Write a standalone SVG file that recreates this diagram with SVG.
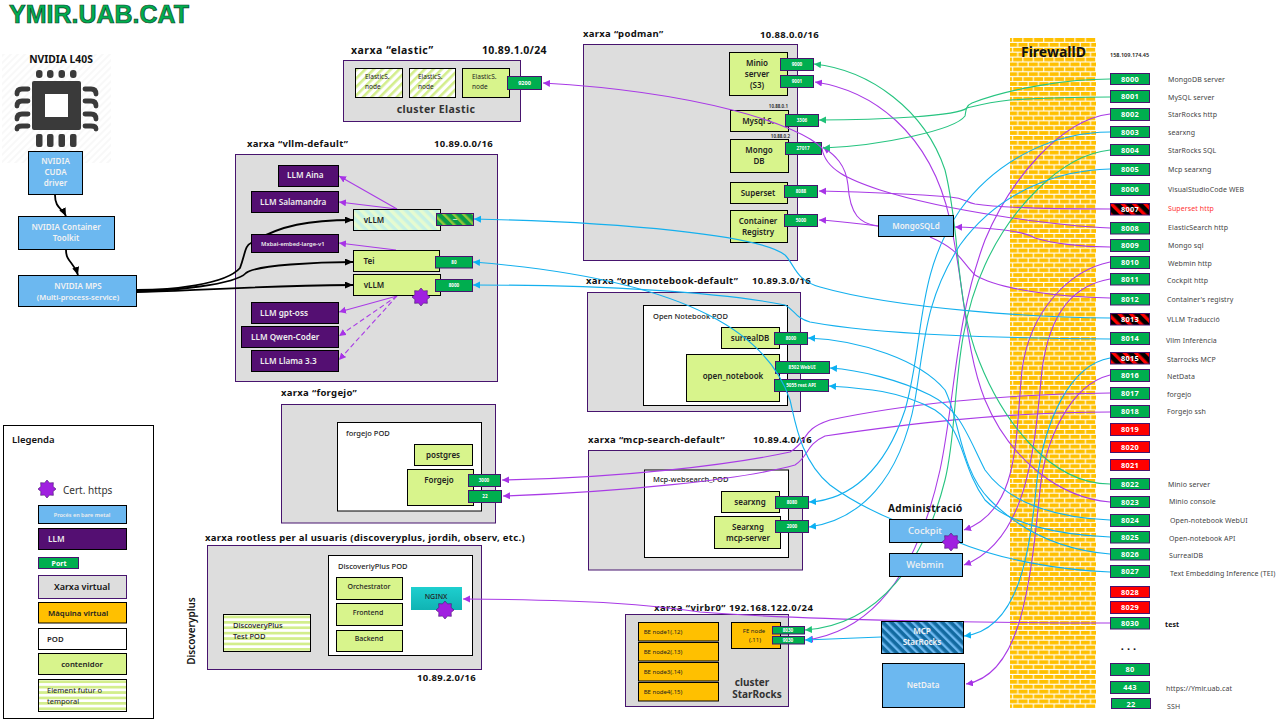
<svg xmlns="http://www.w3.org/2000/svg" width="1280" height="720" viewBox="0 0 1280 720">
<style>
text{font-family:"Noto Sans","Liberation Sans",sans-serif;fill:#222}
.b{font-weight:600}
.net{fill:#ddd;stroke:#47146e;stroke-width:1}
.pod{fill:#fff;stroke:#000;stroke-width:1}
.c{fill:#d8f48c;stroke:#000;stroke-width:1}
.fut{fill:url(#hG);stroke:#000;stroke-width:1}
.fut2{fill:url(#hS);stroke:#000;stroke-width:1}
.llm{fill:#540f72;stroke:#000;stroke-width:1}
.bm{fill:#6cb8f0;stroke:#000;stroke-width:1}
.vm{fill:#ffc000;stroke:#000;stroke-width:1}
.p{fill:#00ae4f;stroke:#47146e;stroke-width:1}
.pr{fill:#f00;stroke:#47146e;stroke-width:1}
.ph{fill:url(#hR);stroke:#47146e;stroke-width:1}
.tn{font-size:9.5px;font-weight:700;letter-spacing:.3px;fill:#111}
.tc{font-size:8px;font-weight:600;text-anchor:middle;fill:#222}
.tl{font-size:8.2px;font-weight:600;fill:#eee}
.tb{font-size:8px;font-weight:600;fill:#f2f2f2;text-anchor:middle}
.tp{font-size:4.6px;font-weight:700;fill:#fff;text-anchor:middle}
.tf{font-size:7.4px;font-weight:700;fill:#fff;text-anchor:middle;letter-spacing:.3px}
.lb{font-size:7px;fill:#444;letter-spacing:.1px}
.lv{fill:none;stroke-width:1.1}
.g{stroke:#27c480}.u{stroke:#a93be6}.s{stroke:#14b0ee}
.star{fill:#a020e0;stroke:#47146e;stroke-width:.6}
</style>
<defs>
<marker id="aG" markerUnits="userSpaceOnUse" markerWidth="8" markerHeight="8" refX="7" refY="3.5" orient="auto"><path d="M0,0L7,3.5L0,7z" fill="#1fc177"/></marker>
<marker id="aU" markerUnits="userSpaceOnUse" markerWidth="8" markerHeight="8" refX="7" refY="3.5" orient="auto"><path d="M0,0L7,3.5L0,7z" fill="#a733e6"/></marker>
<marker id="aS" markerUnits="userSpaceOnUse" markerWidth="8" markerHeight="8" refX="7" refY="3.5" orient="auto"><path d="M0,0L7,3.5L0,7z" fill="#0cb0f2"/></marker>
<marker id="aK" markerUnits="userSpaceOnUse" markerWidth="9" markerHeight="8" refX="8" refY="3.5" orient="auto"><path d="M0,0L8,3.5L0,7z" fill="#000"/></marker>
<pattern id="hG" width="6" height="6" patternUnits="userSpaceOnUse" patternTransform="rotate(45)"><rect width="6" height="6" fill="#fff"/><rect width="2.6" height="6" fill="#d3ee8c"/></pattern>
<pattern id="hS" width="6" height="5.4" patternUnits="userSpaceOnUse"><rect width="6" height="5.4" fill="#fff"/><rect width="6" height="2.7" fill="#d3ee8c"/></pattern>
<pattern id="hC" width="7" height="7" patternUnits="userSpaceOnUse" patternTransform="rotate(-45)"><rect width="7" height="7" fill="#c6f1e4"/><rect width="3.5" height="7" fill="#e6fbd0"/></pattern>
<pattern id="hP" width="7" height="7" patternUnits="userSpaceOnUse" patternTransform="rotate(-45)"><rect width="7" height="7" fill="#0a9a48"/><rect width="2.5" height="7" fill="#92c638"/></pattern>
<pattern id="hR" width="8" height="8" patternUnits="userSpaceOnUse" patternTransform="rotate(-45)"><rect width="8" height="8" fill="#000"/><rect width="3.4" height="8" fill="#f00"/></pattern>
<pattern id="hB" width="6" height="6" patternUnits="userSpaceOnUse" patternTransform="rotate(-45)"><rect width="6" height="6" fill="#126aa0"/><rect width="2.4" height="6" fill="#6cb8f0"/></pattern>
<pattern id="hL" width="5" height="5" patternUnits="userSpaceOnUse" patternTransform="rotate(45)"><rect width="5" height="5" fill="#fff"/><rect width="2" height="5" fill="#f8f8f8"/></pattern>
<pattern id="brick" width="10.4" height="9.8" patternUnits="userSpaceOnUse" patternTransform="translate(1010 38)"><rect width="10.4" height="9.8" fill="#ffc000"/><rect y="3.8" width="10.4" height="1.1" fill="#fff"/><rect y="8.7" width="10.4" height="1.1" fill="#fff"/><rect x="2" width="1.1" height="3.8" fill="#fff"/><rect x="7.2" y="4.9" width="1.1" height="3.8" fill="#fff"/></pattern>
<linearGradient id="teal" x1="0" y1="0" x2="0" y2="1"><stop offset="0" stop-color="#1ecfcf"/><stop offset="1" stop-color="#10b3b3"/></linearGradient>
<polygon id="star" class="star" points="0,-9 2.5,-6.1 6.36,-6.36 6.1,-2.5 9,0 6.1,2.5 6.36,6.36 2.5,6.1 0,9 -2.5,6.1 -6.36,6.36 -6.1,2.5 -9,0 -6.1,-2.5 -6.36,-6.36 -2.5,-6.1"/>
</defs>

<g id="title"><text x="9" y="23" style="font-family:'Liberation Sans',sans-serif;font-size:25px;font-weight:700;fill:#00ae4f;stroke:#14402a;stroke-width:.7px">YMIR.UAB.CAT</text></g>

<g id="gpu">
<rect x="2" y="54" width="109" height="109" fill="url(#hL)"/>
<text x="61" y="63" class="b" style="font-size:10.300px;font-weight:700;text-anchor:middle;fill:#111">NVIDIA L40S</text>
<rect x="32" y="81" width="49" height="49" rx="2" fill="#3a3a3a"/>
<rect x="45" y="94" width="23" height="23" fill="#fff"/>
<g fill="#3a3a3a"><rect x="36" y="70" width="6.500" height="8" rx="3"/><rect x="47" y="70" width="6.500" height="8" rx="3"/><rect x="58.500" y="70" width="6.500" height="8" rx="3"/><rect x="70" y="70" width="6.500" height="8" rx="3"/><rect x="36" y="134" width="6.500" height="13" rx="2"/><rect x="47" y="134" width="6.500" height="13" rx="2"/><rect x="58.500" y="134" width="6.500" height="13" rx="2"/><rect x="70" y="134" width="6.500" height="13" rx="2"/></g>
<g fill="none" stroke="#3a3a3a" stroke-width="4.800" stroke-linecap="round"><path d="M28,89H22Q17,89 17,94"/><path d="M28,101H22Q17,101 17,106"/><path d="M28,114H22Q17,114 17,119"/><path d="M28,126H22Q17,126 17,129"/><path d="M85,89H91Q96,89 96,94"/><path d="M85,101H91Q96,101 96,106"/><path d="M85,114H91Q96,114 96,119"/><path d="M85,126H91Q96,126 96,129"/></g>
</g>
<g id="cuda"><rect x="28.500" y="151.500" width="54" height="43" class="bm"/><text class="tb" x="55.500" y="164">NVIDIA</text><text class="tb" x="55.500" y="175">CUDA</text><text class="tb" x="55.500" y="186">driver</text></g>
<g id="toolkit"><rect x="18.500" y="216.500" width="96" height="33" class="bm"/><text class="tb" x="66" y="230">NVIDIA Container</text><text class="tb" x="66" y="241">Toolkit</text></g>
<g id="mps"><rect x="18.500" y="275.500" width="118" height="31" class="bm"/><text class="tb" x="78" y="289">NVIDIA MPS</text><text class="tb" x="78" y="300" style="font-size:7.500px">(Multi-process-service)</text></g>

<g id="net-elastic"><rect x="343.500" y="60.500" width="177" height="61" class="net"/><text class="tn" x="351" y="54" style="font-size:10.500px;letter-spacing:.5px">xarxa “elastic”</text><text class="tn" x="482" y="54" style="font-size:10.500px">10.89.1.0/24</text><text x="436" y="113" style="font-size:10.500px;font-weight:700;text-anchor:middle;fill:#333;letter-spacing:.4px">cluster Elastic</text></g>
<g id="elastic1"><rect x="355.500" y="68.500" width="47" height="29" class="fut"/><text x="365" y="79" style="font-size:6.500px">ElasticS.</text><text x="365" y="89" style="font-size:6.500px">node</text></g>
<g id="elastic2"><rect x="409.500" y="68.500" width="46" height="29" class="fut"/><text x="418" y="79" style="font-size:6.500px">ElasticS.</text><text x="418" y="89" style="font-size:6.500px">node</text></g>
<g id="elastic3"><rect x="462.500" y="68.500" width="47" height="29" class="c"/><text x="472" y="79" style="font-size:6.500px">ElasticS.</text><text x="472" y="89" style="font-size:6.500px">node</text><rect x="507.500" y="76.500" width="34" height="13" class="p"/><text class="tp" x="524.500" y="85" style="font-size:5.500px">9200</text></g>

<g id="net-vllm"><rect x="235.500" y="154.500" width="262" height="227" class="net"/><text class="tn" x="247" y="147">xarxa “vllm-default”</text><text class="tn" x="434" y="147">10.89.0.0/16</text></g>

<g id="net-podman"><rect x="583.500" y="44.500" width="214" height="216" class="net"/><text class="tn" x="583" y="37">xarxa “podman”</text><text class="tn" x="760" y="38">10.88.0.0/16</text></g>
<g id="minio"><rect x="729.500" y="52.500" width="58" height="43" class="c"/><text class="tc" x="757" y="66">Minio</text><text class="tc" x="757" y="77">server</text><text class="tc" x="757" y="88">(S3)</text><rect x="780.500" y="58.500" width="33" height="12" class="p"/><text class="tp" x="797" y="66">9000</text><rect x="780.500" y="75.500" width="33" height="12" class="p"/><text class="tp" x="797" y="83">9001</text></g>
<g id="mysql"><text x="788" y="108" style="font-size:4.500px;font-weight:600;text-anchor:end">10.88.0.1</text><rect x="730.500" y="110.500" width="58" height="21" class="c"/><text class="tc" x="758" y="124">Mysql S.</text><rect x="785.500" y="114.500" width="33" height="12" class="p"/><text class="tp" x="802" y="122">3306</text></g>
<g id="mongo"><text x="790" y="138" style="font-size:4.500px;font-weight:600;text-anchor:end">10.88.0.2</text><rect x="730.500" y="139.500" width="58" height="33" class="c"/><text class="tc" x="759" y="153">Mongo</text><text class="tc" x="759" y="164">DB</text><rect x="785.500" y="142.500" width="36" height="12" class="p"/><text class="tp" x="803" y="150">27017</text></g>
<g id="superset"><rect x="730.500" y="182.500" width="57" height="21" class="c"/><text class="tc" x="758" y="196">Superset</text><rect x="784.500" y="185.500" width="33" height="12" class="p"/><text class="tp" x="801" y="193">8088</text></g>
<g id="registry"><rect x="730.500" y="210.500" width="57" height="32" class="c"/><text class="tc" x="758" y="224">Container</text><text class="tc" x="758" y="235">Registry</text><rect x="784.500" y="214.500" width="33" height="12" class="p"/><text class="tp" x="801" y="222">5000</text></g>

<g id="net-opennotebook"><rect x="587.500" y="292.500" width="213" height="119" class="net"/><text class="tn" x="586" y="284">xarxa “opennotebook-default”</text><text class="tn" x="752" y="284">10.89.3.0/16</text></g>
<g id="pod-opennotebook"><rect x="643.500" y="305.500" width="144" height="100" class="pod"/><text x="653" y="319" style="font-size:7.500px;font-weight:500">Open Notebook POD</text></g>
<g id="surreal"><rect x="721.500" y="327.500" width="58" height="21" class="c"/><text class="tc" x="750" y="341">surrealDB</text><rect x="774.500" y="332.500" width="33" height="12" class="p"/><text class="tp" x="791" y="340">8000</text></g>
<g id="open-notebook"><rect x="686.500" y="354.500" width="93" height="47" class="c"/><text class="tc" x="733" y="379">open_notebook</text><rect x="775.500" y="361.500" width="54" height="12" class="p"/><text class="tp" x="802" y="369">8502 WebUI</text><rect x="774.500" y="379.500" width="54" height="12" class="p"/><text class="tp" x="801" y="387">5055 rest API</text></g>

<g id="net-mcp"><rect x="588.500" y="450.500" width="214" height="119.500" class="net"/><text class="tn" x="588" y="443">xarxa “mcp-search-default”</text><text class="tn" x="753" y="443">10.89.4.0/16</text></g>
<g id="pod-mcp"><rect x="644.500" y="470" width="144" height="87.500" class="pod"/><text x="653" y="482" style="font-size:7.500px;font-weight:500">Mcp-websearch_POD</text></g>
<g id="searxng"><rect x="721.500" y="491.500" width="58" height="21" class="c"/><text class="tc" x="750" y="505">searxng</text><rect x="775.500" y="496.500" width="33" height="12" class="p"/><text class="tp" x="792" y="504">8080</text></g>
<g id="mcp-server"><rect x="714.500" y="516.500" width="66" height="32" class="c"/><text class="tc" x="748" y="530">Searxng</text><text class="tc" x="748" y="541">mcp-server</text><rect x="775.500" y="520.500" width="33" height="12" class="p"/><text class="tp" x="792" y="528">2000</text></g>

<g id="net-forgejo"><rect x="281.500" y="404.500" width="214" height="118.500" class="net"/><text class="tn" x="281" y="396">xarxa “forgejo”</text></g>
<g id="pod-forgejo"><rect x="337.500" y="422.500" width="144" height="88.500" class="pod"/><text x="346" y="436" style="font-size:7.500px;font-weight:500">forgejo  POD</text></g>
<g id="postgres"><rect x="414.500" y="444.500" width="58" height="21" class="c"/><text class="tc" x="443" y="458">postgres</text></g>
<g id="forgejo"><rect x="407.500" y="469.500" width="66" height="36" class="c"/><text class="tc" x="439" y="483">Forgejo</text><rect x="468.500" y="474.500" width="32" height="12" class="p"/><text class="tp" x="484" y="482">3000</text><rect x="468.500" y="490.500" width="33" height="12" class="p"/><text class="tp" x="485" y="498">22</text></g>

<g id="net-rootless"><rect x="207.500" y="545.500" width="274" height="124" class="net"/><text class="tn" x="205" y="541">xarxa rootless per al usuaris (discoveryplus, jordih, observ, etc.)</text><text class="tn" x="417" y="681">10.89.2.0/16</text><text x="195" y="631" transform="rotate(-90 195 631)" style="font-size:10px;font-weight:600;text-anchor:middle;fill:#111">Discoveryplus</text></g>
<g id="pod-discovery"><rect x="328.500" y="555.500" width="144" height="100" class="pod"/><text x="338" y="569" style="font-size:7.500px;font-weight:500">DiscoveriyPlus POD</text></g>
<g id="orchestrator"><rect x="336.500" y="577.500" width="66" height="22" class="c"/><text x="369" y="589" style="font-size:7px;font-weight:500;text-anchor:middle">Orchestrator</text></g>
<g id="frontend"><rect x="336.500" y="603.500" width="66" height="22" class="c"/><text x="368" y="615" style="font-size:7px;font-weight:500;text-anchor:middle">Frontend</text></g>
<g id="backend"><rect x="336.500" y="630.500" width="66" height="21" class="c"/><text x="369" y="641" style="font-size:7px;font-weight:500;text-anchor:middle">Backend</text></g>
<g id="nginx"><rect x="411" y="587" width="51" height="23" fill="url(#teal)"/><text x="436" y="599" style="font-size:7px;font-weight:500;text-anchor:middle">NGINX</text><use href="#star" x="445" y="610"/></g>
<g id="test-pod"><rect x="223.500" y="614.500" width="87" height="37" class="fut2"/><text x="233" y="628" style="font-size:7.500px;font-weight:500">DiscoveryPlus</text><text x="233" y="639" style="font-size:7.500px;font-weight:500">Test POD</text></g>

<g id="net-virbr0"><rect x="625.500" y="614.500" width="163" height="92" fill="#d9d9d9" stroke="#47146e"/><text class="tn" x="654" y="611" style="letter-spacing:.45px">xarxa “virbr0”  192.168.122.0/24</text><text x="752" y="686" style="font-size:10px;font-weight:700;text-anchor:middle;fill:#333">cluster</text><text x="757" y="698" style="font-size:10px;font-weight:700;text-anchor:middle;fill:#333">StarRocks</text></g>
<g id="be1"><rect x="638.500" y="622.500" width="80" height="18.500" class="vm"/><text x="663" y="633.500" style="font-size:6px;text-anchor:middle">BE node1(.12)</text></g>
<g id="be2"><rect x="638.500" y="642.500" width="80" height="18.500" class="vm"/><text x="663" y="653.500" style="font-size:6px;text-anchor:middle">BE node2(.13)</text></g>
<g id="be3"><rect x="638.500" y="662.500" width="80" height="18.500" class="vm"/><text x="663" y="673.500" style="font-size:6px;text-anchor:middle">BE node3(.14)</text></g>
<g id="be4"><rect x="638.500" y="682.500" width="80" height="18.500" class="vm"/><text x="663" y="693.500" style="font-size:6px;text-anchor:middle">BE node4(.15)</text></g>
<g id="fe"><rect x="731.500" y="622.500" width="49" height="26" class="vm"/><text x="754" y="633" style="font-size:6px;text-anchor:middle">FE node</text><text x="755" y="641.500" style="font-size:6px;text-anchor:middle">(.11)</text><rect x="772.500" y="626.500" width="32" height="7.500" class="p"/><text class="tp" x="788" y="632">8030</text><rect x="772.500" y="636.500" width="32" height="7.500" class="p"/><text class="tp" x="788" y="642">9030</text></g>

<g id="firewalld"><rect x="1010" y="38" width="86" height="670" fill="url(#brick)"/><text x="1021" y="57" style="font-size:14px;font-weight:700;fill:#111">FirewallD</text></g>

<g id="connectors" class="lv" fill="none">
<path d="M55,195C55,208 62,208 66,216" stroke="#000" stroke-width="1.800" marker-end="url(#aK)"/>
<path d="M66,250C66,262 74,262 78,275" stroke="#000" stroke-width="1.800" marker-end="url(#aK)"/>
<path d="M137,290C170,290 225,285 240,268C245,255 245,245 251,243C280,225 310,220 353,220" stroke="#000" stroke-width="1.800" marker-end="url(#aK)"/>
<path d="M137,291C170,291 235,285 246,273C255,265 320,262 353,262" stroke="#000" stroke-width="1.800" marker-end="url(#aK)"/>
<path d="M137,292C175,292 240,286 353,285" stroke="#000" stroke-width="1.800" marker-end="url(#aK)"/>
<g class="u" stroke="#a93be6">
<path d="M397,209L339,176" marker-end="url(#aU)"/><path d="M397,209L339,202" marker-end="url(#aU)"/><path d="M396,250L339,243" marker-end="url(#aU)"/>
<path d="M397,296L339,312" marker-end="url(#aU)"/>
<path d="M397,296L339,336" stroke-dasharray="5 3" marker-end="url(#aU)"/><path d="M397,296L339,360" stroke-dasharray="5 3" marker-end="url(#aU)"/>
<path d="M1110,502C1060,498 1010,460 985,400C965,350 965,290 950,220C930,130 870,90 815,82" marker-end="url(#aU)"/>
<path d="M1110,114C1060,120 1010,180 985,240C955,320 955,400 940,470C920,560 880,630 806,640" marker-end="url(#aU)"/>
<path d="M1110,209C1060,209 1000,208 975,204C965,202 965,198 950,197C900,193 860,192 819,191" marker-end="url(#aU)"/>
<path d="M1110,228C1060,226 950,212 880,190C850,180 825,170 822,148C800,125 700,92 543,83" marker-end="url(#aU)"/>
<path d="M1110,247C1080,247 1050,243 1035,238C1025,232 1000,228 955,227" marker-end="url(#aU)"/>
<path d="M878,226C860,224 850,215 848,185C846,165 835,155 823,147" marker-end="url(#aU)"/>
<path d="M878,226C860,224 840,221 819,220" marker-end="url(#aU)"/>
<path d="M1110,298C1060,297 1000,290 975,275C960,260 960,250 930,237"/>
<path d="M1110,375C1070,385 1045,440 1040,490C1030,590 1020,675 966,684" marker-end="url(#aU)"/>
<path d="M1110,262C1070,270 1030,310 1022,370C1015,440 1020,510 964,530" marker-end="url(#aU)"/>
<path d="M1110,279C1075,285 1050,310 1042,370C1035,440 1030,540 964,565" marker-end="url(#aU)"/>
<path d="M1110,393C1000,394 900,405 830,420C800,430 810,440 790,452C730,465 620,478 502,480" marker-end="url(#aU)"/>
<path d="M1110,412C1000,412 900,425 825,436C805,445 810,455 795,465C740,480 620,492 503,496" marker-end="url(#aU)"/>
<path d="M1110,623C1000,623 800,620 700,612C650,605 600,600 463,599" marker-end="url(#aU)"/>
</g>
<g class="g" stroke="#27c480">
<path d="M1110,79C1070,79 1010,88 972,103C965,106 966,112 965,116C955,130 880,146 823,148" marker-end="url(#aG)"/>
<path d="M1110,97C1070,97 1040,98 1010,100C990,102 975,106 967,108C958,116 880,120 819,120" marker-end="url(#aG)"/>
<path d="M1110,484C1050,484 1000,420 975,350C955,290 960,230 945,170C925,110 870,70 814,64" marker-end="url(#aG)"/>
<path d="M1110,150C1060,155 1010,210 985,265C950,340 960,420 945,480C925,560 880,625 805,630" marker-end="url(#aG)"/>
</g>
<g class="s" stroke="#14b0ee">
<path d="M1110,132C1060,132 1000,155 960,210C915,275 925,340 905,410C885,470 850,500 809,502" marker-end="url(#aS)"/>
<path d="M1110,169C1060,170 1000,190 960,245C925,300 925,340 915,400C900,480 860,520 809,527" marker-end="url(#aS)"/>
<path d="M1110,318C1050,318 900,310 820,287C795,280 795,265 785,255C760,235 620,222 474,219" marker-end="url(#aS)"/>
<path d="M1110,339C1000,338 880,335 810,322C795,318 795,310 785,305C720,292 600,285 473,285" marker-end="url(#aS)"/>
<path d="M1110,572C1060,570 1000,560 955,541C930,535 870,515 830,485C800,460 795,420 790,400C770,340 700,280 473,262" marker-end="url(#aS)"/>
<path d="M1110,358C1070,365 1045,420 1037,480C1030,550 1020,630 964,636" marker-end="url(#aS)"/>
<path d="M881,637L805,640" marker-end="url(#aS)"/>
<path d="M1110,520C1060,518 1010,505 985,470C965,430 960,410 930,395C900,380 860,370 830,368" marker-end="url(#aS)"/>
<path d="M1110,537C1060,535 1010,525 985,500C960,465 965,430 935,410C900,390 860,388 829,386" marker-end="url(#aS)"/>
<path d="M1110,554C1060,550 1020,530 990,500C960,470 960,420 945,390C920,360 860,340 808,338" marker-end="url(#aS)"/>
</g>
</g>

<g id="llm-aina"><rect x="278.500" y="165.500" width="60" height="21" class="llm"/><text class="tl" x="287" y="178">LLM Aina</text></g>
<g id="llm-salamandra"><rect x="251.500" y="191.500" width="87" height="21" class="llm"/><text class="tl" x="260" y="205">LLM Salamandra</text></g>
<g id="vllm-t"><rect x="353.500" y="209.500" width="87" height="21" fill="url(#hC)" stroke="#000"/><text class="tc" x="374" y="223">vLLM</text><rect x="436.500" y="213.500" width="37" height="12" fill="url(#hP)" stroke="#47146e"/><text class="tp" x="455" y="221">—</text></g>
<g id="mxbai"><rect x="251.500" y="234.500" width="87" height="18" class="llm"/><text x="261" y="245.500" style="font-size:5.800px;font-weight:600;fill:#eee">Mxbai-embed-large-v1</text></g>
<g id="tei"><rect x="353.500" y="250.500" width="86" height="21" class="c"/><text class="tc" x="369" y="264">Tei</text><rect x="435.500" y="256.500" width="37" height="11.500" class="p"/><text class="tp" x="454" y="264">80</text></g>
<g id="vllm-i"><rect x="353.500" y="274.500" width="87" height="21" class="c"/><text class="tc" x="374" y="288">vLLM</text><rect x="435.500" y="279.500" width="37" height="12" class="p"/><text class="tp" x="454" y="287">8000</text><use href="#star" x="421" y="297"/></g>
<g id="llm-gpt"><rect x="251.500" y="302.500" width="87" height="21" class="llm"/><text class="tl" x="260" y="316">LLM gpt-oss</text></g>
<g id="llm-qwen"><rect x="241.500" y="326.500" width="97" height="21" class="llm"/><text class="tl" x="251" y="340">LLM Qwen-Coder</text></g>
<g id="llm-llama"><rect x="251.500" y="350.500" width="87" height="21" class="llm"/><text class="tl" x="260" y="364">LLM Llama 3.3</text></g>

<g id="mongosqld"><rect x="878.500" y="215.500" width="75" height="21" class="bm"/><text class="tb" x="916" y="229">MongoSQLd</text></g>
<g id="cockpit"><text x="888" y="512" style="font-size:10px;font-weight:700;fill:#111;letter-spacing:.4px">Administració</text><rect x="889.500" y="519.500" width="73" height="23" class="bm"/><text class="tb" x="925" y="534" style="font-size:9.500px;font-weight:500">Cockpit</text><use href="#star" x="951" y="542"/></g>
<g id="webmin"><rect x="889.500" y="553.500" width="73" height="23" class="bm"/><text class="tb" x="925" y="568" style="font-size:9.500px;font-weight:500">Webmin</text></g>
<g id="mcp-starrocks"><rect x="881.500" y="621.500" width="82" height="32" fill="url(#hB)" stroke="#000"/><text class="tb" x="922" y="634">MCP</text><text class="tb" x="922" y="645">StarRocks</text></g>
<g id="netdata"><rect x="882.500" y="663.500" width="82" height="44" class="bm"/><text class="tb" x="923" y="688">NetData</text></g>

<g id="ports">
<text x="1110" y="57" style="font-size:5.500px;font-weight:600">158.109.174.45</text>
<rect x="1110.500" y="73.500" width="39" height="11" class="p"/><text class="tf" x="1130" y="82">8000</text><text class="lb" x="1168" y="82">MongoDB server</text>
<rect x="1110.500" y="90.500" width="39" height="12" class="p"/><text class="tf" x="1130" y="99">8001</text><text class="lb" x="1168" y="100">MySQL server</text>
<rect x="1110.500" y="108.500" width="39" height="12" class="p"/><text class="tf" x="1130" y="117">8002</text><text class="lb" x="1168" y="117">StarRocks http</text>
<rect x="1110.500" y="126.500" width="39" height="11" class="p"/><text class="tf" x="1130" y="135">8003</text><text class="lb" x="1168" y="135">searxng</text>
<rect x="1110.500" y="144.500" width="39" height="11" class="p"/><text class="tf" x="1130" y="153">8004</text><text class="lb" x="1168" y="153">StarRocks SQL</text>
<rect x="1110.500" y="163.500" width="39" height="12" class="p"/><text class="tf" x="1130" y="172">8005</text><text class="lb" x="1168" y="172">Mcp searxng</text>
<rect x="1110.500" y="183.500" width="39" height="12" class="p"/><text class="tf" x="1130" y="192">8006</text><text class="lb" x="1168" y="192">VisualStudioCode WEB</text>
<rect x="1110.500" y="203.500" width="39" height="11.500" class="ph"/><text class="tf" x="1130" y="212">8007</text><text class="lb" x="1168" y="211" style="fill:#f33">Superset http</text>
<rect x="1110.500" y="222.500" width="39" height="11.500" class="p"/><text class="tf" x="1130" y="231">8008</text><text class="lb" x="1168" y="230">ElasticSearch http</text>
<rect x="1110.500" y="239.500" width="39" height="12" class="p"/><text class="tf" x="1130" y="248">8009</text><text class="lb" x="1168" y="248">Mongo sql</text>
<rect x="1110.500" y="256.500" width="39" height="12" class="p"/><text class="tf" x="1130" y="265">8010</text><text class="lb" x="1168" y="266">Webmin http</text>
<rect x="1110.500" y="273.500" width="39" height="11.500" class="p"/><text class="tf" x="1130" y="282">8011</text><text class="lb" x="1167" y="283">Cockpit http</text>
<rect x="1110.500" y="293.500" width="39" height="11.500" class="p"/><text class="tf" x="1130" y="302">8012</text><text class="lb" x="1167" y="302">Container's registry</text>
<rect x="1110.500" y="313.500" width="39" height="11.500" class="ph"/><text class="tf" x="1130" y="322">8013</text><text class="lb" x="1167" y="322">VLLM Traducció</text>
<rect x="1110.500" y="332.500" width="39" height="12" class="p"/><text class="tf" x="1130" y="341">8014</text><text class="lb" x="1166" y="343">Vllm Inferència</text>
<rect x="1110.500" y="352.500" width="39" height="11.500" class="ph"/><text class="tf" x="1130" y="361">8015</text><text class="lb" x="1167" y="362">Starrocks MCP</text>
<rect x="1110.500" y="369.500" width="39" height="12" class="p"/><text class="tf" x="1130" y="378">8016</text><text class="lb" x="1167" y="379">NetData</text>
<rect x="1110.500" y="387.500" width="39" height="12" class="p"/><text class="tf" x="1130" y="396">8017</text><text class="lb" x="1167" y="397">forgejo</text>
<rect x="1110.500" y="405.500" width="39" height="12" class="p"/><text class="tf" x="1130" y="414">8018</text><text class="lb" x="1167" y="414">Forgejo ssh</text>
<rect x="1110.500" y="423.500" width="39" height="12" class="pr"/><text class="tf" x="1130" y="432">8019</text>
<rect x="1110.500" y="441.500" width="39" height="11" class="pr"/><text class="tf" x="1130" y="450">8020</text>
<rect x="1110.500" y="459.500" width="39" height="11" class="pr"/><text class="tf" x="1130" y="468">8021</text>
<rect x="1110.500" y="478.500" width="39" height="11" class="p"/><text class="tf" x="1130" y="487">8022</text><text class="lb" x="1168" y="487">Minio server</text>
<rect x="1110.500" y="496.500" width="39" height="11" class="p"/><text class="tf" x="1130" y="505">8023</text><text class="lb" x="1169" y="504">Minio console</text>
<rect x="1110.500" y="514.500" width="39" height="12" class="p"/><text class="tf" x="1130" y="523">8024</text><text class="lb" x="1170" y="523">Open-notebook WebUI</text>
<rect x="1110.500" y="531.500" width="39" height="11.500" class="p"/><text class="tf" x="1130" y="540">8025</text><text class="lb" x="1169" y="541">Open-notebook API</text>
<rect x="1110.500" y="548.500" width="39" height="11.500" class="p"/><text class="tf" x="1130" y="557">8026</text><text class="lb" x="1169" y="558">SurrealDB</text>
<rect x="1110.500" y="565.500" width="39" height="12" class="p"/><text class="tf" x="1130" y="574">8027</text><text class="lb" x="1170" y="576">Text Embedding Inference (TEI)</text>
<rect x="1110.500" y="586.500" width="39" height="11" class="pr"/><text class="tf" x="1130" y="595">8028</text>
<rect x="1110.500" y="601.500" width="39" height="12" class="pr"/><text class="tf" x="1130" y="610">8029</text>
<rect x="1110.500" y="617.500" width="39" height="11.500" class="p"/><text class="tf" x="1130" y="626">8030</text><text class="lb" x="1165" y="627" style="font-weight:700;fill:#111">test</text>
<text x="1130" y="650" style="font-size:11px;font-weight:700;text-anchor:middle;letter-spacing:3px;fill:#111">...</text>
<rect x="1110.500" y="663.500" width="39" height="12" class="p"/><text class="tf" x="1130" y="672">80</text>
<rect x="1110.500" y="681.500" width="39" height="12" class="p"/><text class="tf" x="1130" y="690">443</text><text class="lb" x="1166" y="691">https://Ymir.uab.cat</text>
<rect x="1111.500" y="698.500" width="39" height="10" class="p"/><text class="tf" x="1131" y="706.500">22</text><text class="lb" x="1167" y="709">SSH</text>
</g>

<g id="legend">
<rect x="3.500" y="425.500" width="150" height="293" fill="#fff" stroke="#000"/>
<text x="12" y="443" style="font-size:9.500px;font-weight:600;fill:#111">Llegenda</text>
<use href="#star" x="47" y="489"/>
<text x="63" y="494" style="font-size:10px;fill:#333">Cert. https</text>
<rect x="38.500" y="505.500" width="88" height="18" class="bm"/><text x="82" y="516.500" style="font-size:5.500px;font-weight:600;fill:#eee;text-anchor:middle">Procés en bare metal</text>
<rect x="38.500" y="528.500" width="88" height="21" class="llm"/><text class="tl" x="48" y="542">LLM</text>
<rect x="38.500" y="557.500" width="40" height="11" class="p"/><text x="59" y="566" style="font-size:7px;font-weight:700;fill:#fff;text-anchor:middle">Port</text>
<rect x="38.500" y="575.500" width="88" height="23" class="net"/><text x="82" y="590" style="font-size:9px;font-weight:600;fill:#111;text-anchor:middle">Xarxa virtual</text>
<rect x="38.500" y="602.500" width="88" height="20.500" class="vm"/><text x="48" y="616" style="font-size:7.800px;font-weight:600">Màquina virtual</text>
<rect x="38.500" y="628.500" width="88" height="21" class="pod"/><text x="47" y="642" style="font-size:7.800px;font-weight:600">POD</text>
<rect x="38.500" y="653.500" width="88" height="21" class="c"/><text x="82" y="667" style="font-size:7.800px;font-weight:600;text-anchor:middle">contenidor</text>
<rect x="38.500" y="679.500" width="88" height="32" class="fut2"/><text x="47" y="693" style="font-size:7.500px">Element futur o</text><text x="47" y="704" style="font-size:7.500px">temporal</text>
</g>
</svg>
